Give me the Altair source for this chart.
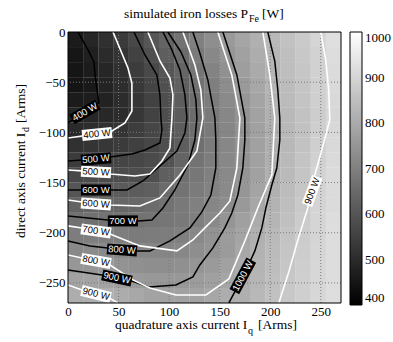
import math
import altair as alt
import pandas as pd

SERIF = "Liberation Serif"
SANS = "Liberation Sans"

# ---------------- background map ----------------
iq_centers = [7.5, 22.5, 37.5, 52.5, 67.5, 82.5, 97.5, 112.5, 127.5, 142.5,
              157.5, 172.5, 187.5, 202.5, 217.5, 232.5, 247.5, 262.5]
id_centers = [-7.5, -22.5, -37.5, -52.5, -67.5, -82.5, -97.5, -112.5, -127.5,
              -142.5, -157.5, -172.5, -187.5, -202.5, -217.5, -232.5, -247.5, -262.5]
loss_grid = [
    [464, 489, 512, 538, 570, 603, 636, 669, 701, 733, 762, 788, 814, 836, 856, 876, 901, 924],
    [451, 476, 500, 523, 555, 587, 621, 655, 688, 720, 752, 779, 806, 830, 850, 870, 895, 919],
    [449, 465, 489, 513, 540, 571, 602, 638, 675, 709, 742, 772, 800, 827, 846, 867, 892, 915],
    [448, 459, 482, 505, 531, 559, 588, 625, 665, 699, 732, 763, 793, 823, 843, 864, 890, 913],
    [463, 468, 481, 503, 528, 555, 583, 618, 658, 692, 724, 756, 787, 818, 840, 860, 886, 910],
    [484, 489, 495, 504, 527, 555, 583, 616, 655, 687, 717, 748, 781, 814, 835, 856, 883, 907],
    [498, 506, 512, 522, 544, 565, 585, 618, 657, 688, 716, 745, 778, 810, 833, 854, 884, 908],
    [516, 523, 530, 538, 550, 566, 583, 620, 660, 689, 717, 745, 778, 809, 832, 856, 886, 910],
    [542, 550, 556, 562, 568, 577, 594, 636, 670, 694, 720, 745, 778, 810, 835, 860, 892, 913],
    [570, 576, 576, 579, 581, 586, 623, 660, 680, 701, 723, 748, 779, 811, 837, 863, 896, 916],
    [600, 606, 608, 613, 617, 623, 652, 671, 689, 707, 725, 753, 785, 815, 842, 867, 897, 916],
    [632, 638, 641, 643, 645, 654, 669, 685, 700, 715, 729, 761, 792, 820, 846, 872, 899, 916],
    [665, 667, 670, 670, 668, 672, 677, 685, 699, 723, 751, 777, 803, 827, 852, 877, 901, 919],
    [695, 697, 699, 697, 690, 691, 695, 701, 721, 743, 766, 789, 813, 835, 859, 879, 902, 919],
    [723, 726, 725, 722, 714, 712, 713, 717, 734, 749, 765, 792, 819, 841, 863, 883, 904, 920],
    [755, 754, 755, 747, 738, 735, 735, 738, 750, 762, 778, 803, 824, 845, 866, 885, 905, 921],
    [782, 783, 782, 775, 762, 757, 757, 758, 766, 776, 788, 809, 829, 850, 870, 887, 906, 921],
    [806, 809, 812, 805, 795, 783, 781, 779, 782, 794, 806, 811, 832, 853, 871, 887, 907, 922],
]

# ---------------- contour lines (black) ----------------
b400_iq = [0, 16.8, 30.6, 28.7, 26.7, 25.7, 19.8, 9.9]
b400_id = [-90.6, -79.7, -70.7, -57.8, -42.8, -29.9, -17.9, 0]
b500_iq = [0, 27.7, 41.5, 63.2, 76.1, 90.9, 92.9, 91.9, 90.9, 87.9, 76.1, 65.2]
b500_id = [-128.5, -126.5, -124.5, -121.5, -117.5, -110.6, -97.6, -85.7, -62.7, -42.8, -22.9, 0]
b600_iq = [0, 27.7, 41.5, 58.3, 74.1, 90.9, 107.7, 115.6, 117.6, 115.6, 110.7, 102.8, 93.9]
b600_id = [-157.4, -157.4, -157.4, -157.4, -148.4, -133.5, -118.5, -100.6, -85.7, -62.7, -37.8, -17.9, 0]
b700_iq = [0, 39.5, 54.3, 69.2, 83, 93.9, 105.7, 118.6, 125.5, 127.5, 126.5, 121.5, 111.7, 98.8]
b700_id = [-183.3, -187.3, -188.2, -188.2, -187.3, -175.3, -157.4, -132.5, -107.6, -85.7, -67.7, -42.8, -19.9, 0]
b800_iq = [0, 21.7, 39.5, 53.4, 68.2, 81, 100.8, 120.6, 132.4, 141.3, 146.2, 146.2, 145.3, 138.3, 130.4, 123.5]
b800_id = [-208.2, -213.1, -215.1, -217.1, -218.1, -218.1, -208.2, -195.2, -179.3, -162.4, -135.5, -107.6, -85.7, -47.8, -20.9, 0]
b900_iq = [0, 33.6, 48.4, 63.2, 80, 106.7, 123.5, 130.4, 143.3, 155.1, 162, 168, 172.9, 174.9, 174.9, 167, 153.2]
b900_id = [-237.1, -242, -245, -248, -254, -252, -244, -232.1, -215.1, -195.2, -180.3, -162.4, -135.5, -107.6, -85.7, -42.8, 0]
b1000_iq = [159.1, 166, 172.9, 179.8, 184.8, 191.7, 195.7, 201.6, 206.5, 209.5, 209.5, 207.5, 204.5, 197.6]
b1000_id = [-269.9, -256.9, -243, -229.1, -218.1, -195.2, -175.3, -152.4, -135.5, -107.6, -85.7, -57.8, -28.9, 0]

# ---------------- contour lines (white) ----------------
w400_iq = [0, 13.8, 28.7, 43.5, 56.3, 63.2, 63.2, 59.3, 44.5]
w400_id = [-105.6, -103.6, -101.6, -98.6, -90.6, -78.7, -50.8, -35.9, 0]
w500_iq = [0, 13.8, 27.7, 41.5, 66.2, 81, 92.9, 100.8, 102.8, 103.8, 100.8, 90.9, 79]
w500_id = [-137.5, -138.4, -139.4, -141.4, -143.4, -141.4, -128.5, -115.5, -85.7, -62.7, -45.8, -28.9, 0]
w600_iq = [0, 13.8, 27.7, 41.5, 71.1, 90.9, 110.7, 127.5, 133.4, 131.4, 125.5, 113.6]
w600_id = [-167.3, -169.3, -171.3, -172.3, -173.3, -165.3, -142.4, -118.5, -85.7, -57.8, -32.9, 0]
w700_iq = [0, 13.8, 27.7, 41.5, 71.1, 107.7, 123.5, 135.4, 150.2, 160.1, 167, 170, 162, 148.2]
w700_id = [-193.2, -195.2, -198.2, -201.2, -213.1, -218.1, -207.2, -195.2, -180.3, -168.3, -135.5, -85.7, -42.8, 0]
w800_iq = [0, 13.8, 27.7, 41.5, 64.2, 81, 106.7, 136.4, 159.1, 174.9, 187.7, 201.6, 204.5, 199.6, 192.7]
w800_id = [-222.1, -225.1, -228.1, -232.1, -247, -255, -262, -262, -246, -208.2, -175.3, -142.4, -85.7, -42.8, 0]
w900a_iq = [0, 13.8, 27.7, 42.5, 49.4]
w900a_id = [-252, -257, -261, -266, -269.9]
w900b_iq = [250, 254.9, 257.9, 258.9, 251, 244.1, 237.2, 227.3, 218.4, 208.5]
w900b_id = [0, -27.9, -57.8, -87.6, -117.5, -142.4, -175.3, -207.2, -239, -269.9]

# ---------------- inline labels ----------------
lab_text = ["400 W", "400 W", "500 W", "500 W", "600 W", "600 W", "700 W", "700 W",
            "800 W", "800 W", "900 W", "900 W", "1000 W", "900 W"]
lab_kind = ["black", "white", "black", "white", "black", "white", "black", "white",
            "black", "white", "black", "white", "black", "white"]
lab_iq = [16.8, 28.7, 27.7, 27.7, 27.7, 27.7, 54.3, 27.7, 53.4, 27.7, 48.4, 27.7, 172.9, 241.5]
lab_id = [-79.7, -101.6, -126.5, -139.4, -157.4, -171.3, -188.2, -198.2, -217.1, -228.1, -245, -261, -243, -158.4]
lab_angle = [330, 354, 355, 3, 0, 4, 0, 8, 4, 10, 12, 14, 298, 290]

x_ticks = [0, 50, 100, 150, 200, 250]
y_ticks = [0, -50, -100, -150, -200, -250]
bar_ticks = [400, 500, 600, 700, 800, 900, 1000]

W, H = 273, 271

# ---------------- tables ----------------
cells = []
for i, yc in enumerate(id_centers):
    for j, xc in enumerate(iq_centers):
        cells.append({"x1": xc - 7.5, "x2": xc + 7.7, "y1": yc + 7.5, "y2": yc - 7.7,
                      "loss": loss_grid[i][j]})
cells = pd.DataFrame(cells)

def line_table(pairs):
    rows = []
    for name, xs_, ys_ in pairs:
        for k, (a, b) in enumerate(zip(xs_, ys_)):
            rows.append({"seg": name, "k": k, "iq": a, "id": b})
    return pd.DataFrame(rows)

black_lines = line_table([("b400", b400_iq, b400_id), ("b500", b500_iq, b500_id),
                          ("b600", b600_iq, b600_id), ("b700", b700_iq, b700_id),
                          ("b800", b800_iq, b800_id), ("b900", b900_iq, b900_id),
                          ("b1000", b1000_iq, b1000_id)])
white_lines = line_table([("w400", w400_iq, w400_id), ("w500", w500_iq, w500_id),
                          ("w600", w600_iq, w600_id), ("w700", w700_iq, w700_id),
                          ("w800", w800_iq, w800_id), ("w900a", w900a_iq, w900a_id),
                          ("w900b", w900b_iq, w900b_id)])

labs = []
for t, kd, cx, cy, a in zip(lab_text, lab_kind, lab_iq, lab_id, lab_angle):
    half = (18.0 if len(t) > 5 else 15.0) / 1.01
    r = math.radians(a)
    labs.append({"t": t, "kind": kd, "cx": cx, "cy": cy, "ang": a,
                 "x1": cx - half * math.cos(r), "y1": cy + half * math.sin(r),
                 "x2": cx + half * math.cos(r), "y2": cy - half * math.sin(r)})
labs = pd.DataFrame(labs)
labs_b = labs[labs.kind == "black"]
labs_w = labs[labs.kind == "white"]

# ---------------- encodings ----------------
xs = alt.Scale(domain=[0, 270], nice=False, zero=False)
ys = alt.Scale(domain=[-270, 0], nice=False, zero=False)
xaxis = alt.Axis(values=x_ticks, ticks=False, domain=False, grid=False, labelFont=SERIF,
                 labelFontSize=13, labelColor="black", labelPadding=2, labelFlush=False)
yaxis = alt.Axis(values=y_ticks, ticks=False, domain=False, grid=False, labelFont=SERIF,
                 labelFontSize=13, labelColor="black", labelPadding=3, labelFlush=False)

def X(f):
    return alt.X(f, type="quantitative", scale=xs, axis=xaxis, title=None)

def Y(f):
    return alt.Y(f, type="quantitative", scale=ys, axis=yaxis, title=None)

heat = alt.Chart(cells).mark_rect(clip=True).encode(
    x=X("x1"), x2="x2", y=Y("y1"), y2="y2",
    color=alt.Color("loss:Q", title=None,
                    scale=alt.Scale(domain=[400, 1000], range=["black", "white"],
                                    interpolate="rgb", clamp=True),
                    legend=alt.Legend(orient="right", offset=9, padding=0, direction="vertical",
                                      gradientLength=273, gradientThickness=12,
                                      gradientStrokeColor="black", gradientStrokeWidth=1,
                                      values=bar_ticks, format="d", labelFont=SERIF,
                                      labelFontSize=13, labelColor="black", labelOffset=3)),
)

gx = alt.Chart(pd.DataFrame({"v": x_ticks[1:]})).mark_rule(
    color="#7a7a7a", strokeDash=[1, 2], strokeWidth=1).encode(x=X("v"))
gy = alt.Chart(pd.DataFrame({"v": y_ticks[1:]})).mark_rule(
    color="#7a7a7a", strokeDash=[1, 2], strokeWidth=1).encode(y=Y("v"))

bl = alt.Chart(black_lines).mark_line(color="black", strokeWidth=1.5, clip=True).encode(
    x=X("iq"), y=Y("id"), detail="seg:N", order="k:Q")
wl = alt.Chart(white_lines).mark_line(color="white", strokeWidth=1.6, clip=True).encode(
    x=X("iq"), y=Y("id"), detail="seg:N", order="k:Q")

box_b = alt.Chart(labs_b).mark_rule(color="black", strokeWidth=11, strokeCap="butt").encode(
    x=X("x1"), y=Y("y1"), x2="x2", y2="y2")
box_w = alt.Chart(labs_w).mark_rule(color="white", strokeWidth=11, strokeCap="butt").encode(
    x=X("x1"), y=Y("y1"), x2="x2", y2="y2")
txt_b = alt.Chart(labs_b).mark_text(font=SANS, fontSize=9.5, color="white",
                                    align="center", baseline="middle").encode(
    x=X("cx"), y=Y("cy"), text="t:N", angle=alt.Angle("ang:Q", scale=None))
txt_w = alt.Chart(labs_w).mark_text(font=SANS, fontSize=9.5, color="black",
                                    align="center", baseline="middle").encode(
    x=X("cx"), y=Y("cy"), text="t:N", angle=alt.Angle("ang:Q", scale=None))

one = pd.DataFrame({"a": [1]})
frame = alt.Chart(one).mark_rect(filled=False, stroke="black", strokeWidth=1).encode(
    x=alt.value(0), x2=alt.value(W), y=alt.value(0), y2=alt.value(H))

def txt(s, x, y, size=13.5, angle=0):
    return alt.Chart(pd.DataFrame({"t": [s]})).mark_text(
        font=SERIF, fontSize=size, color="black", align="left",
        baseline="alphabetic", angle=angle).encode(
        x=alt.value(x), y=alt.value(y), text="t:N")

titles = [
    txt("simulated iron losses P", 56, -14),
    txt("Fe", 181, -10, size=10),
    txt("[W]", 194, -14),
    txt("quadrature axis current I", 47, 297),
    txt("q", 180, 302, size=10),
    txt("[Arms]", 190, 297),
    txt("direct axis current I", -43, 206, angle=270),
    txt("d", -39, 100, size=10, angle=270),
    txt("[Arms]", -43, 91, angle=270),
]

chart = alt.layer(heat, gx, gy, bl, wl, box_b, box_w, txt_b, txt_w, frame, *titles).properties(
    width=W, height=H,
    autosize=alt.AutoSizeParams(type="none"),
    padding={"left": 68, "top": 32, "right": 52, "bottom": 39},
    background="white",
).configure_view(strokeWidth=0).configure_axis(
    labelFont=SERIF, labelFontSize=13, labelColor="black"
).configure_legend(labelFont=SERIF, labelFontSize=13, labelColor="black")

chart.save("out.html", embed_options={"renderer": "svg", "actions": False})
